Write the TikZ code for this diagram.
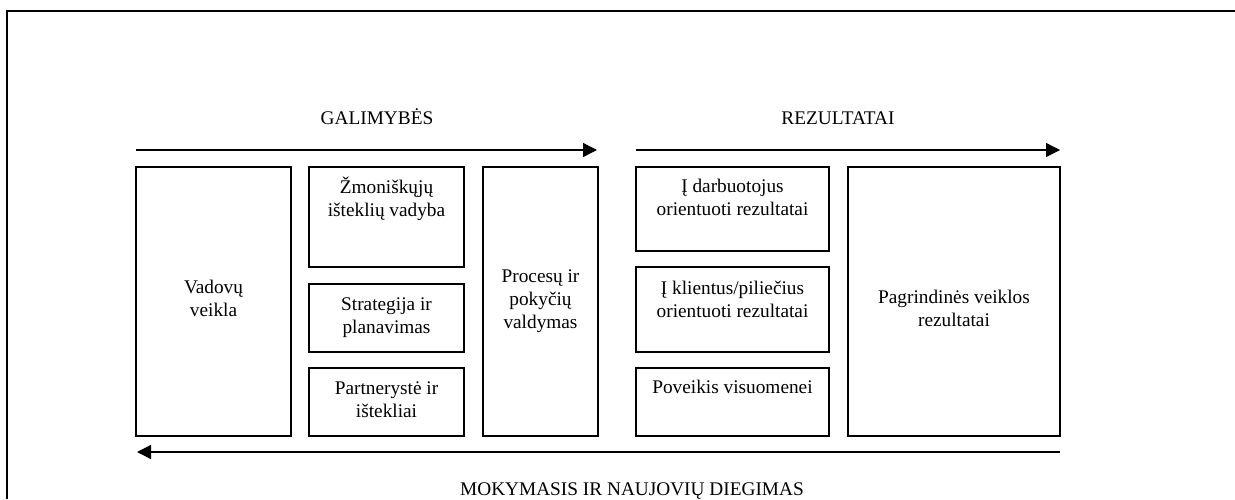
\documentclass[tikz,border=0pt]{standalone}
\usepackage{fontspec}
\setmainfont{Liberation Serif}
\usetikzlibrary{arrows.meta}
\begin{document}
\begin{tikzpicture}[x=1pt,y=-1pt,
  box/.style={draw=black,line width=1.3pt,inner sep=0pt},
  lbl/.style={align=center,inner sep=0pt,anchor=base,font=\fontsize{19.3}{23}\selectfont},
  flow/.style={line width=1.3pt,-{Triangle[length=14pt,width=14pt]}}]
\useasboundingbox (0,0) rectangle (1235,499);
\draw[line width=2pt] (7,499) -- (7,11) -- (1235,11);
% boxes
\node[box,minimum width=155pt,minimum height=269pt] (vad) at (213.5,301.5) {};
\node[box,minimum width=155pt,minimum height=100pt] (zmo) at (386.5,217) {};
\node[box,minimum width=155pt,minimum height=68pt] (str) at (386.5,318) {};
\node[box,minimum width=155pt,minimum height=68pt] (par) at (386.5,402) {};
\node[box,minimum width=115pt,minimum height=269pt] (pro) at (540.5,301.5) {};
\node[box,minimum width=193pt,minimum height=84pt] (dar) at (732.5,209) {};
\node[box,minimum width=193pt,minimum height=85pt] (kli) at (732.5,309.5) {};
\node[box,minimum width=193pt,minimum height=68pt] (pov) at (732.5,402) {};
\node[box,minimum width=212pt,minimum height=269pt] (pag) at (954,301.5) {};
% texts (anchor base = last line baseline)
\node[lbl] (tzmo) at (386.5,216) {Žmoniškųjų\\išteklių vadyba};
\node[lbl] (tvad) at (213.5,316) {Vadovų\\veikla};
\node[lbl] (tstr) at (386.5,333) {Strategija ir\\planavimas};
\node[lbl] (tpar) at (386.5,417) {Partnerystė ir\\ištekliai};
\node[lbl] (tpro) at (540.5,328) {Procesų ir\\pokyčių\\valdymas};
\node[lbl] (tdar) at (732.5,215) {Į darbuotojus\\orientuoti rezultatai};
\node[lbl] (tkli) at (732.5,317) {Į klientus/piliečius\\orientuoti rezultatai};
\node[lbl] (tpov) at (732.5,393) {Poveikis visuomenei};
\node[lbl] (tpag) at (954,326) {Pagrindinės veiklos\\rezultatai};
\node[lbl] (gal) at (377,124) {GALIMYBĖS};
\node[lbl] (rez) at (838,124) {REZULTATAI};
\node[lbl] (mok) at (632,495) {MOKYMASIS IR NAUJOVIŲ DIEGIMAS};
% arrows
\coordinate (a1s) at (136,150);
\coordinate (a1e) at (597,150);
\coordinate (a2s) at (636,150);
\coordinate (a2e) at (1060,150);
\coordinate (a3s) at (1060,452);
\coordinate (a3e) at (137,452);
\draw[flow] (a1s) -- (a1e);
\draw[flow] (a2s) -- (a2e);
\draw[flow] (a3s) -- (a3e);
\end{tikzpicture}
\end{document}
